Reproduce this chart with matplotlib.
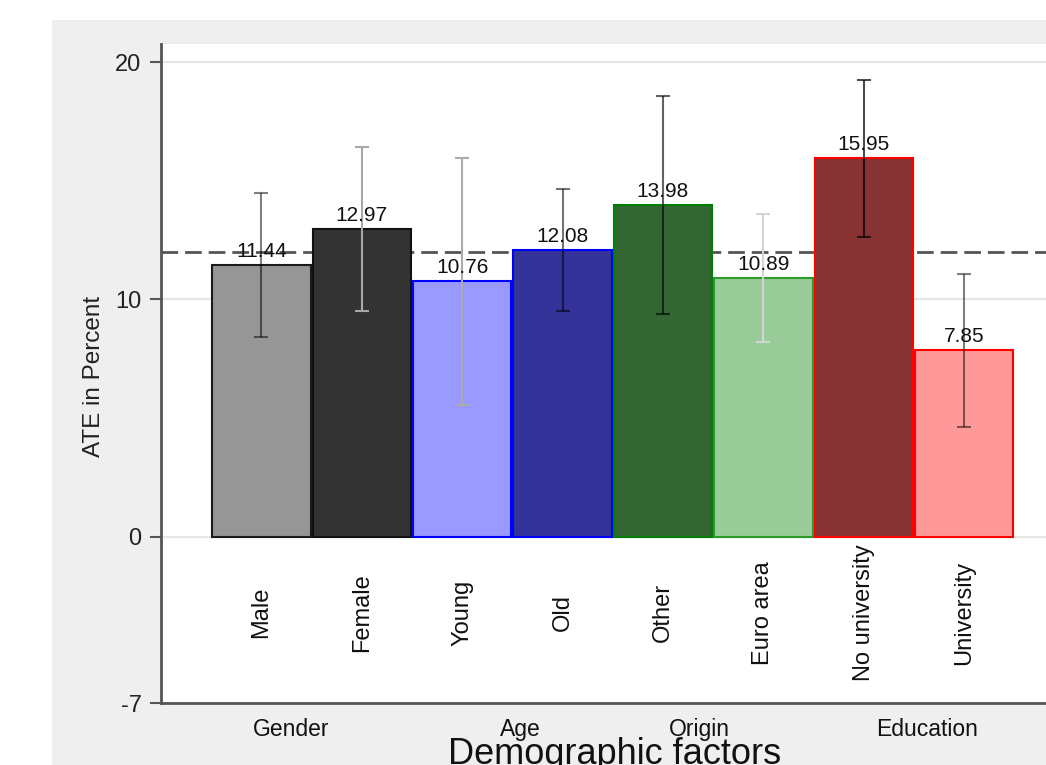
import matplotlib
matplotlib.use('Agg')
import matplotlib.pyplot as plt
from matplotlib.patches import Rectangle
from matplotlib.transforms import blended_transform_factory

plt.rcParams['font.family'] = ['Liberation Sans', 'DejaVu Sans']

# ATE by demographic subgroup (percent) with symmetric CI half-widths
groups = ['Male', 'Female', 'Young', 'Old', 'Other', 'Euro area', 'No university', 'University']
ate = [11.44, 12.97, 10.76, 12.08, 13.98, 10.89, 15.95, 7.85]
ci_half = [3.03, 3.45, 5.20, 2.56, 4.60, 2.69, 3.30, 3.21]
overall_ate = 12.0

factor_names = ['Gender', 'Age', 'Origin', 'Education']
factor_pos = [1.30, 3.58, 5.36, 7.63]

y_ticks = [-7, 0, 10, 20]

fill_colors = ['#969696', '#333333', '#9999ff', '#333399',
               '#336633', '#99cc99', '#883333', '#ff9999']
edge_colors = ['#1a1a1a', '#111111', '#0000ff', '#0000ff',
               '#008000', '#2a9a2a', '#ff0000', '#ff0000']
err_colors = [(0, 0, 0, 0.5), '#a8a8a8', '#ababab', (0, 0, 0, 0.55),
              (0, 0, 0, 0.62), '#d4d4d4', (0, 0, 0, 0.7), (0, 0, 0, 0.5)]

fig = plt.figure(figsize=(10.46, 7.65), dpi=100)
fig.patch.set_facecolor('white')
# grey plot region behind the axes
fig.patches.append(Rectangle((52 / 1046, 0), 1, 1 - 20 / 765, transform=fig.transFigure,
                             facecolor='#efefef', edgecolor='none', zorder=-10))

ax = fig.add_axes([161 / 1046, 1 - 703 / 765, 1 - 161 / 1046, 659 / 765])
ax.set_facecolor('white')

x = list(range(1, len(groups) + 1))

for yv in [0, 10, 20]:
    ax.axhline(yv, color='#e6e6e6', lw=1.6, zorder=1)

ax.axhline(overall_ate, color='#555555', lw=2, dashes=(6, 2.5), zorder=2)

ax.bar(x, ate, width=0.98, color=fill_colors, edgecolor=edge_colors, linewidth=1.5, zorder=3)

for xi, v, e, c in zip(x, ate, ci_half, err_colors):
    ax.errorbar(xi, v, yerr=e, fmt='none', ecolor=c, elinewidth=1.5,
                capsize=4.7, capthick=1.5, zorder=4)
    ax.annotate(f'{v:.2f}', (xi, v), xytext=(0, 6), textcoords='offset points',
                ha='center', va='baseline', fontsize=15, color='#111111', zorder=5)

# category names sit inside the plot, below zero
for xi, name in zip(x, groups):
    ax.text(xi, -3.2, name, rotation=90, ha='center', va='center',
            fontsize=17, color='#111111')

trans = blended_transform_factory(ax.transData, ax.transAxes)
for pos, name in zip(factor_pos, factor_names):
    ax.text(pos, -0.04, name, transform=trans, ha='center', va='center',
            fontsize=16.5, color='#111111', clip_on=False)

fig.text(615 / 1046, 1 - 764 / 765, 'Demographic factors', ha='center', va='baseline',
         fontsize=26, color='#111111')

ax.set_xlim(0, 8.815)
ax.set_ylim(-7, 20.76)
ax.set_xticks([])
ax.set_yticks(y_ticks)
ax.set_yticklabels([str(t) for t in y_ticks])
ax.tick_params(axis='y', length=8, width=1.5, color='#555555', pad=6,
               labelsize=17, labelcolor='#222222')

ax.set_ylabel('ATE in Percent', fontsize=17.5, color='#222222')
ax.yaxis.set_label_coords(-0.0757, 0.495)
ax.yaxis.label.set_va('center')

for side in ['top', 'right']:
    ax.spines[side].set_visible(False)
for side in ['left', 'bottom']:
    ax.spines[side].set_color('#555555')
    ax.spines[side].set_linewidth(2)

fig.savefig('out.png', dpi=100)
